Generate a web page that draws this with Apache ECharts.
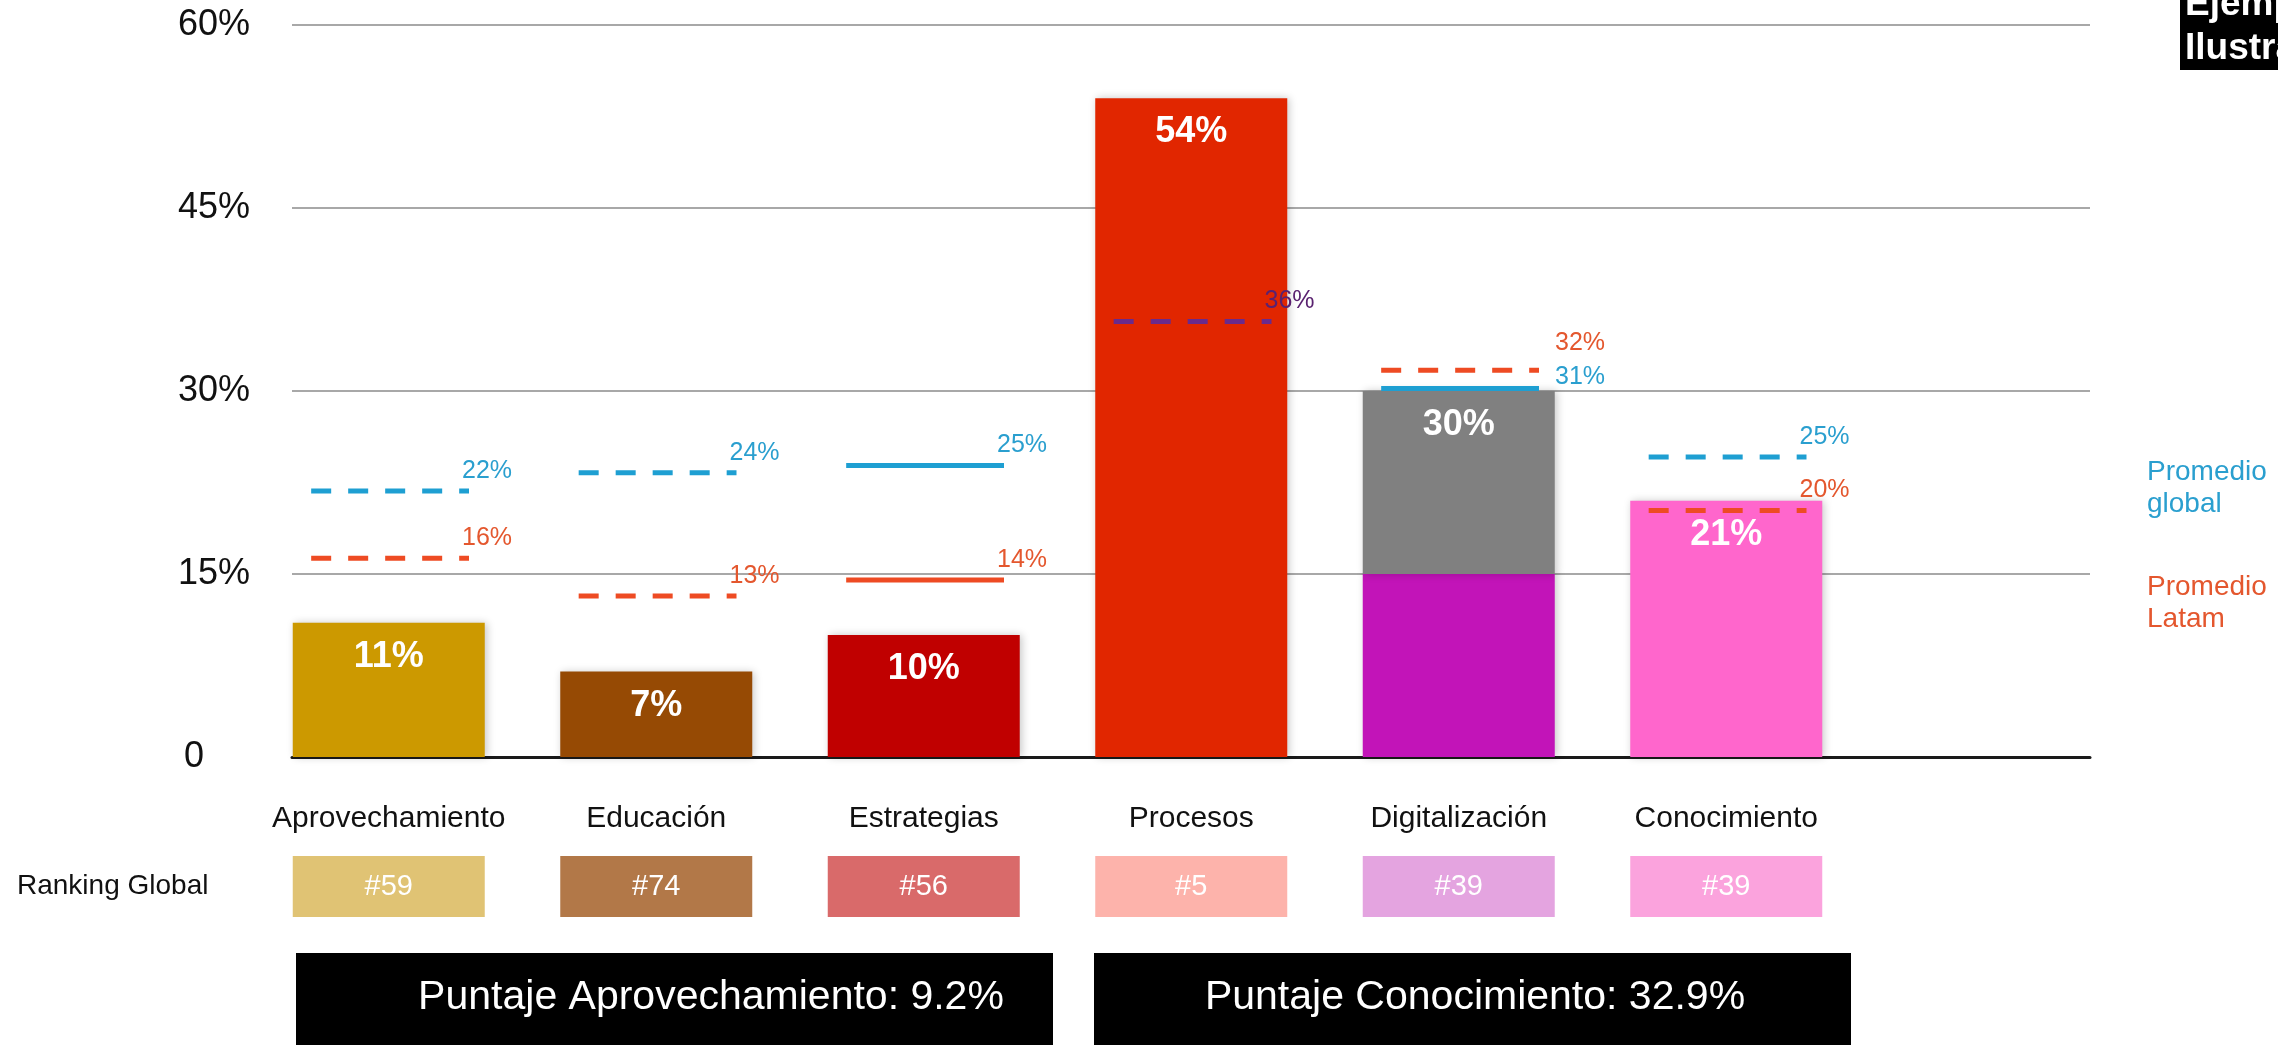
<!DOCTYPE html>
<html>
<head>
<meta charset="utf-8">
<script src="https://cdn.jsdelivr.net/npm/echarts@6/dist/echarts.min.js"></script>
<style>
  html, body { margin: 0; padding: 0; background: #ffffff; }
  #chart { width: 2278px; height: 1045px; }
</style>
</head>
<body>
<div id="chart"></div>
<script>
// ---------- data ----------
const categories = ['Aprovechamiento', 'Educación', 'Estrategias', 'Procesos', 'Digitalización', 'Conocimiento'];
const barBase = [11, 7, 10, 54, 15, 21];               // main bar (Digitalización: lower purple part)
const barUpper = [null, null, null, null, 15, null];  // Digitalización upper grey part
const barLabels = ['11%', '7%', '10%', '54%', '30%', '21%'];

const globalAvg = [21.8, 23.3, 23.9, null, 30.2, 24.6];
const globalAvgLabels = ['22%', '24%', '25%', null, '31%', '25%'];
const latamAvg = [16.3, 13.2, 14.5, null, 31.7, 20.2];
const latamAvgLabels = ['16%', '13%', '14%', null, '32%', '20%'];
const procesosRef = [null, null, null, 35.7, null, null];
const procesosRefLabels = [null, null, null, '36%', null, null];

const rankings = ['#59', '#74', '#56', '#5', '#39', '#39'];
const yTicks = [0, 15, 30, 45, 60];
const scoreBoxTexts = ['Puntaje Aprovechamiento: 9.2%', 'Puntaje Conocimiento: 32.9%'];
const legendTexts = ['Promedio\nglobal', 'Promedio\nLatam'];
const stampText = ['Ejemplo', 'Ilustrativo'];

// ---------- styles ----------
const FONT = "'Liberation Sans', Arial, Helvetica, sans-serif";
const barColors = ['#CC9900', '#964A04', '#C00000', '#E12600', '#C214B8', '#FF66CC'];
const upperColor = '#808080';
const rankColors = ['#E0C374', '#B27848', '#D96A6A', '#FDB3AB', '#E4A4E0', '#FBA3DD'];
const globalColor = '#1E9FD2';
const globalTextColor = '#2A9FCF';
const latamColor = '#EE4B23';
const latamTextColor = '#E4572E';
const procesosColor = '#6A2A8C';
const procesosTextColor = '#5A2270';
const globalSolid = [false, false, true, false, true, false];
const latamSolid = [false, false, true, false, false, false];
// label nudges [dx from line end, dy from line] where the default would collide
const globalNudge = {4: [16, -11]};
const latamNudge = {4: [16, -27]};

const chart = echarts.init(document.getElementById('chart'), null, {renderer: 'canvas'});

function refLineSeries(name, values, labels, color, textColor, solidList, nudge) {
  const data = [];
  values.forEach((v, i) => { if (v != null) data.push([i, v]); });
  return {
    name: name,
    type: 'custom',
    xAxisIndex: 0,
    yAxisIndex: 0,
    z: 5,
    data: data,
    encode: {x: 0, y: 1},
    renderItem: function (params, api) {
      const idx = api.value(0);
      const v = api.value(1);
      const c = api.coord([idx, v]);
      const band = api.size([1, 0])[0];
      const x1 = c[0] - 0.29 * band;
      const x2 = c[0] + 0.30 * band;
      const n = (nudge && nudge[idx]) || [-7, -20];
      const solid = solidList ? solidList[idx] : false;
      return {
        type: 'group',
        children: [
          {
            type: 'line',
            shape: {x1: x1, y1: c[1], x2: x2, y2: c[1]},
            style: {stroke: color, lineWidth: 5, lineDash: solid ? null : [20, 17], lineCap: 'butt'}
          },
          {
            type: 'text',
            x: x2 + n[0],
            y: c[1] + n[1],
            style: {
              text: labels[idx], fill: textColor, font: '25px ' + FONT,
              align: 'left', textAlign: 'left', verticalAlign: 'middle', textVerticalAlign: 'middle'
            }
          }
        ]
      };
    }
  };
}

const option = {
  animation: false,
  backgroundColor: '#ffffff',
  textStyle: {fontFamily: FONT},
  grid: [
    {left: 255, right: 418, top: 25, bottom: 288},   // bars
    {left: 292, right: 188, top: 25, bottom: 288},   // gridlines / value axis
    {left: 255, right: 418, top: 856, height: 61}    // ranking boxes
  ],
  xAxis: [
    {
      type: 'category', gridIndex: 0, data: categories,
      axisLine: {show: false}, axisTick: {show: false},
      axisLabel: {interval: 0, fontSize: 30, color: '#111', margin: 47, fontFamily: FONT}
    },
    {
      type: 'value', gridIndex: 1, min: 0, max: 1,
      axisLine: {show: true, onZero: false, lineStyle: {color: '#1a1a1a', width: 3}},
      axisTick: {show: false}, axisLabel: {show: false}, splitLine: {show: false}
    },
    {
      type: 'category', gridIndex: 2, data: categories, show: false
    }
  ],
  yAxis: [
    {type: 'value', gridIndex: 0, min: 0, max: 60, interval: 15, show: false},
    {
      type: 'value', gridIndex: 1, min: yTicks[0], max: yTicks[yTicks.length - 1], interval: 15,
      axisLine: {show: false}, axisTick: {show: false},
      splitLine: {show: true, lineStyle: {color: '#a8a8a8', width: 2}},
      axisLabel: {
        fontSize: 36, color: '#111', margin: 42, fontFamily: FONT,
        formatter: function (v) { return v === 0 ? '{z|0}' : v + '%'; },
        rich: {z: {fontSize: 36, color: '#111', padding: [0, 46, 0, 0], fontFamily: FONT}}
      }
    },
    {type: 'value', gridIndex: 2, min: 0, max: 1, show: false}
  ],
  series: [
    // placeholder series so grid 1 axes render
    {type: 'line', xAxisIndex: 1, yAxisIndex: 1, data: [], silent: true},
    {
      name: 'base', type: 'bar', xAxisIndex: 0, yAxisIndex: 0, stack: 'total',
      barWidth: 192, z: 2,
      data: barBase.map((v, i) => ({value: v, itemStyle: {color: barColors[i]}})),
      itemStyle: {shadowColor: 'rgba(0,0,0,0.22)', shadowBlur: 8, shadowOffsetX: 2},
      label: {
        show: true, position: 'insideTop', distance: 16,
        color: '#fff', fontSize: 36, fontWeight: 'bold', fontFamily: FONT,
        formatter: function (p) { return barUpper[p.dataIndex] == null ? barLabels[p.dataIndex] : ''; }
      }
    },
    {
      name: 'upper', type: 'bar', xAxisIndex: 0, yAxisIndex: 0, stack: 'total',
      barWidth: 192, z: 2,
      data: barUpper,
      itemStyle: {color: upperColor, shadowColor: 'rgba(0,0,0,0.22)', shadowBlur: 8, shadowOffsetX: 2},
      label: {
        show: true, position: 'insideTop', distance: 16,
        color: '#fff', fontSize: 36, fontWeight: 'bold', fontFamily: FONT,
        formatter: function (p) { return barLabels[p.dataIndex]; }
      }
    },
    refLineSeries('global', globalAvg, globalAvgLabels, globalColor, globalTextColor, globalSolid, globalNudge),
    refLineSeries('latam', latamAvg, latamAvgLabels, latamColor, latamTextColor, latamSolid, latamNudge),
    refLineSeries('procesos', procesosRef, procesosRefLabels, procesosColor, procesosTextColor, null, null),
    {
      name: 'ranking', type: 'bar', xAxisIndex: 2, yAxisIndex: 2,
      barWidth: 192,
      data: rankings.map((r, i) => ({value: 1, itemStyle: {color: rankColors[i]}})),
      label: {
        show: true, position: 'inside', color: '#ffffff', fontSize: 29, fontFamily: FONT,
        formatter: function (p) { return rankings[p.dataIndex]; }
      }
    }
  ],
  graphic: [
    {
      type: 'text', x: 17, y: 886,
      style: {
        text: 'Ranking Global', fill: '#111', font: '28px ' + FONT,
        align: 'left', textAlign: 'left', verticalAlign: 'middle', textVerticalAlign: 'middle',
        shadowColor: 'rgba(0,0,0,0.35)', shadowBlur: 4, shadowOffsetY: 3
      }
    },
    {type: 'rect', shape: {x: 296, y: 953, width: 757, height: 100}, style: {fill: '#000'}},
    {
      type: 'text', x: 711, y: 998,
      style: {
        text: scoreBoxTexts[0], fill: '#fff', font: '41px ' + FONT,
        align: 'center', textAlign: 'center', verticalAlign: 'middle', textVerticalAlign: 'middle'
      }
    },
    {type: 'rect', shape: {x: 1094, y: 953, width: 757, height: 100}, style: {fill: '#000'}},
    {
      type: 'text', x: 1475, y: 998,
      style: {
        text: scoreBoxTexts[1], fill: '#fff', font: '41px ' + FONT,
        align: 'center', textAlign: 'center', verticalAlign: 'middle', textVerticalAlign: 'middle'
      }
    },
    {type: 'rect', shape: {x: 2180, y: -5, width: 110, height: 75}, style: {fill: '#000'}},
    {
      type: 'text', x: 2185, y: 5,
      style: {
        text: stampText[0], fill: '#fff', font: 'bold 37px ' + FONT,
        align: 'left', textAlign: 'left', verticalAlign: 'middle', textVerticalAlign: 'middle'
      }
    },
    {
      type: 'text', x: 2185, y: 49,
      style: {
        text: stampText[1], fill: '#fff', font: 'bold 37px ' + FONT,
        align: 'left', textAlign: 'left', verticalAlign: 'middle', textVerticalAlign: 'middle'
      }
    },
    {
      type: 'text', x: 2147, y: 488,
      style: {
        text: legendTexts[0], fill: globalTextColor, font: '28px ' + FONT, lineHeight: 32,
        align: 'left', textAlign: 'left', verticalAlign: 'middle', textVerticalAlign: 'middle'
      }
    },
    {
      type: 'text', x: 2147, y: 603,
      style: {
        text: legendTexts[1], fill: latamTextColor, font: '28px ' + FONT, lineHeight: 32,
        align: 'left', textAlign: 'left', verticalAlign: 'middle', textVerticalAlign: 'middle'
      }
    }
  ]
};

chart.setOption(option);
</script>
</body>
</html>
